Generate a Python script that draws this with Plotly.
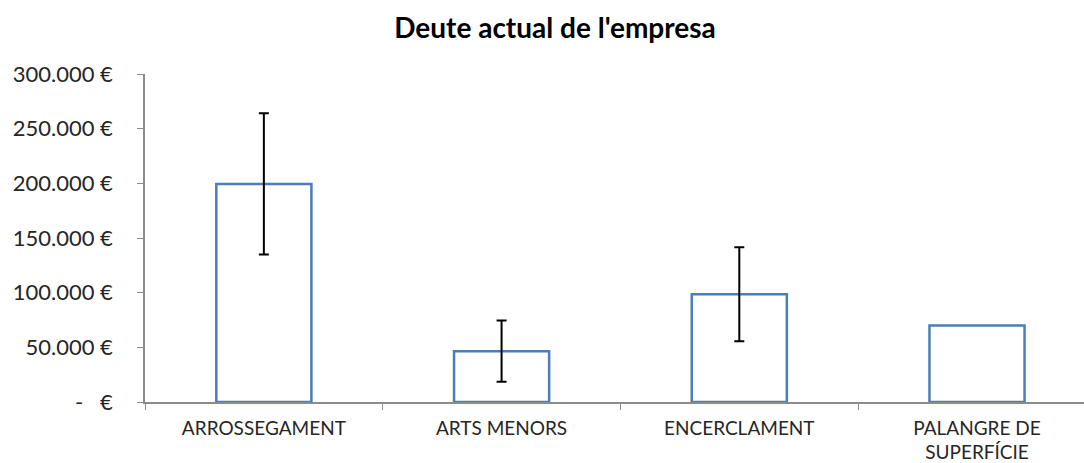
import plotly.graph_objects as go

categories = ["ARROSSEGAMENT", "ARTS MENORS", "ENCERCLAMENT", "PALANGRE DE<br>SUPERFÍCIE"]
deute = [199500, 46500, 98500, 70000]
error = [64500, 28000, 43000, None]
tick_vals = [0, 50000, 100000, 150000, 200000, 250000, 300000]
tick_text = ["-   €", "50.000 €", "100.000 €", "150.000 €", "200.000 €", "250.000 €", "300.000 €"]

font_family = "Lato, Open Sans, sans-serif"
bar_marker = dict(color="white", line=dict(color="#4a7ebb", width=2.5))

with_err = [i for i, e in enumerate(error) if e is not None]
no_err = [i for i, e in enumerate(error) if e is None]

fig = go.Figure()
fig.add_trace(go.Bar(
    x=[categories[i] for i in with_err],
    y=[deute[i] for i in with_err],
    width=0.4,
    marker=bar_marker,
    error_y=dict(type="data", array=[error[i] for i in with_err], visible=True,
                 color="black", thickness=2, width=5),
))
fig.add_trace(go.Bar(
    x=[categories[i] for i in no_err],
    y=[deute[i] for i in no_err],
    width=0.4,
    marker=bar_marker,
))

fig.update_layout(
    width=1084, height=463,
    barmode="overlay",
    margin=dict(l=145, r=0, t=74, b=61),
    paper_bgcolor="white", plot_bgcolor="white",
    showlegend=False,
    title=dict(text="<b>Deute actual de l'empresa</b>", x=0.512, xanchor="center", y=0.94, yanchor="middle",
               font=dict(family=font_family, size=28, color="black")),
    font=dict(family=font_family, color="#262626"),
)
fig.update_xaxes(
    categoryorder="array", categoryarray=categories,
    range=[-0.5, 3.45],
    showline=True, linecolor="#8c8c8c", linewidth=1.5,
    ticks="outside", tickson="boundaries", ticklen=6, tickcolor="#8c8c8c",
    tickfont=dict(size=19, family=font_family, color="#262626"),
    ticklabelstandoff=8,
    showgrid=False, zeroline=False,
)
fig.update_yaxes(
    range=[0, 300000],
    tickvals=tick_vals, ticktext=tick_text,
    showline=True, linecolor="#8c8c8c", linewidth=1.5,
    ticks="outside", ticklen=6, tickcolor="#8c8c8c",
    tickfont=dict(size=22, family=font_family, color="#262626"),
    ticklabelstandoff=20,
    showgrid=False, zeroline=False,
)

fig.write_html("out.html", config={"displayModeBar": False},
               post_script="document.body.style.margin='0';document.body.style.overflow='hidden';")
